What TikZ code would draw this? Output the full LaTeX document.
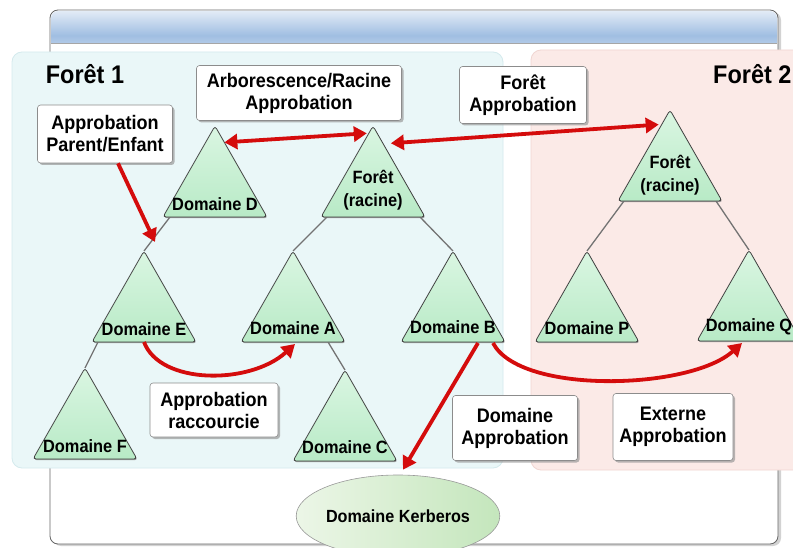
\documentclass[tikz,border=0pt]{standalone}
\usepackage{fontspec}
\setmainfont[FakeStretch=0.92]{Liberation Sans}
\usetikzlibrary{arrows.meta,shadows,shapes.geometric,calc}
\definecolor{redA}{RGB}{212,12,12}
\definecolor{trTop}{RGB}{218,246,226}
\definecolor{trBot}{RGB}{184,234,198}
\definecolor{fOneFill}{RGB}{234,247,248}
\definecolor{fOneDraw}{RGB}{212,234,237}
\definecolor{fTwoFill}{RGB}{251,234,231}
\definecolor{fTwoDraw}{RGB}{240,214,210}
\definecolor{barTop}{RGB}{226,235,246}
\definecolor{barMid}{RGB}{160,190,226}
\definecolor{barBot}{RGB}{218,229,243}
\definecolor{kbLeft}{RGB}{236,246,231}
\definecolor{kbRight}{RGB}{196,230,188}
\pgfdeclarelayer{back}
\pgfdeclarelayer{mid}
\pgfsetlayers{back,mid,main}
\newcommand\domtri[5]{%
  \path[tri] (#2,#3) -- ({#2-52},{#3+91}) -- ({#2+52},{#3+91}) -- cycle;
  \coordinate (#1-top) at (#2,#3);
  \coordinate (#1-b) at (#2,{#3+91});
  \coordinate (#1-bl) at ({#2-52},{#3+91});
  \coordinate (#1-br) at ({#2+52},{#3+91});
  \coordinate (#1-l) at ({#2-46},{#3+91});
  \coordinate (#1-r) at ({#2+46},{#3+91});
  \node[trilabel] (#1) at (#2,{#3+91-#4}) {#5};
}
\begin{document}
\begin{tikzpicture}[x=1pt,y=-1pt,
  box/.style={draw=black!45, fill=white, rounded corners=3pt, line width=0.6pt,
    align=center, inner sep=0pt,
    font=\fontsize{19.6}{22}\selectfont\bfseries,
    drop shadow={shadow xshift=2pt, shadow yshift=-2pt, fill=black!40, opacity=0.7}},
  tri/.style={draw=black!75, line width=0.8pt, rounded corners=3pt,
    top color=trTop, bottom color=trBot,
    drop shadow={shadow xshift=0.8pt, shadow yshift=-1.2pt, fill=black!45, opacity=0.8}},
  trilabel/.style={font=\fontsize{17.8}{23}\selectfont\bfseries, align=center, inner sep=0pt},
  redarrow/.style={draw=redA, line width=3.8pt, line cap=butt,
    -{Triangle[length=13pt,width=15pt]}},
  redboth/.style={draw=redA, line width=3.8pt,
    {Triangle[length=13pt,width=15pt]}-{Triangle[length=13pt,width=15pt]}},
  treeline/.style={draw=black!55, line width=1.3pt},
  title/.style={font=\fontsize{25.5}{28}\selectfont\bfseries, inner sep=0pt}]
\clip (0,0) rectangle (793,548);

\begin{pgfonlayer}{back}
  % outer panel
  \path[draw=black!60, fill=white, line width=0.8pt, rounded corners=8pt,
    drop shadow={shadow xshift=3pt, shadow yshift=-2pt, fill=black!35}]
    (50,10) rectangle (778,544);
  \begin{scope}
    \clip (51,11) rectangle (777,43);
    \path[rounded corners=7pt, top color=barTop, bottom color=barBot, middle color=barMid]
      (51,11) rectangle (777,60);
  \end{scope}
  \draw[black!35, line width=0.6pt] (51,43) -- (777,43);
  % forests
  \path[draw=fOneDraw, fill=fOneFill, line width=0.8pt, rounded corners=10pt]
    (12,52) rectangle (503,468);
  \path[draw=fTwoDraw, fill=fTwoFill, line width=0.8pt, rounded corners=10pt]
    (531,50) rectangle (830,470);
\end{pgfonlayer}

\node[title] (f1) at (85,74) {Forêt 1};
\node[title, anchor=west] (f2) at (713,74) {Forêt 2};

% triangles
\domtri{D}{215}{126}{13}{Domaine D}
\domtri{R1}{373}{126}{27}{Forêt\\(racine)}
\domtri{E}{144}{251}{13}{Domaine E}
\domtri{A}{293}{251}{14}{Domaine A}
\domtri{B}{453}{251}{15}{Domaine B}
\domtri{P}{587}{251}{14}{Domaine P}
\domtri{Q}{749}{250}{14}{Domaine Q}
\domtri{R2}{670}{110}{26}{Forêt\\(racine)}
\domtri{F}{85}{368}{13}{Domaine F}
\domtri{C}{345}{370}{14}{Domaine C}

% tree lines
\begin{pgfonlayer}{mid}
  \draw[treeline] ($(D-l)+(1,0)$) -- (E-top);
  \draw[treeline] (R1-l) -- (A-top);
  \draw[treeline] ($(R1-r)+(1,0)$) -- (B-top);
  \draw[treeline] (E-l) -- (F-top);
  \draw[treeline] ($(A-b)+(35,0)$) -- (C-top);
  \draw[treeline] (R2-l) -- (P-top);
  \draw[treeline] (R2-r) -- (Q-top);
\end{pgfonlayer}

% Kerberos
\node[ellipse, draw=black!40, line width=0.6pt, minimum width=160pt, minimum height=82pt,
  left color=kbLeft, right color=kbRight, inner sep=0pt,
  font=\fontsize{17.6}{20}\selectfont\bfseries] (kerb) at (398,516) {Domaine Kerberos};

% boxes
\node[box, minimum width=135pt, minimum height=58pt] (pe) at (105,134) {Approbation\\Parent/Enfant};
\node[box, minimum width=205pt, minimum height=55pt] (arb) at (299,93) {Arborescence/Racine\\Approbation};
\node[box, minimum width=127pt, minimum height=57pt] (fa) at (523,95) {Forêt\\Approbation};
\node[box, minimum width=128pt, minimum height=54pt] (rac) at (214,410) {Approbation\\raccourcie};
\node[box, minimum width=125pt, minimum height=65pt] (da) at (515,428) {Domaine\\Approbation};
\node[box, minimum width=120pt, minimum height=67pt] (ea) at (673,427) {Externe\\Approbation};

% red arrows
\coordinate (petip) at (155,242);
\draw[redarrow] ($(pe.south)+(13,0)$) -- (petip);
\draw[redboth] ($(D-top)!0.18!(D-br)$) -- ($(R1-top)!0.08!(R1-bl)+(-2,0)$);
\draw[redboth] ($(R1-top)!0.19!(R1-br)+(8,0)$) -- ($(R2-top)!0.16!(R2-bl)+(-3,0)$);
\draw[redarrow] (E-b) .. controls (160,385) and (250,385) .. ($(A-b)+(2,2)$);
\draw[redarrow] ($(B-b)+(40,1)$) .. controls (520,395) and (690,390) .. ($(Q-b)+(-7,2)$);
\draw[redarrow] ($(B-b)+(25,1)$) -- ($(kerb.north)+(5,-5)$);
\end{tikzpicture}
\end{document}
